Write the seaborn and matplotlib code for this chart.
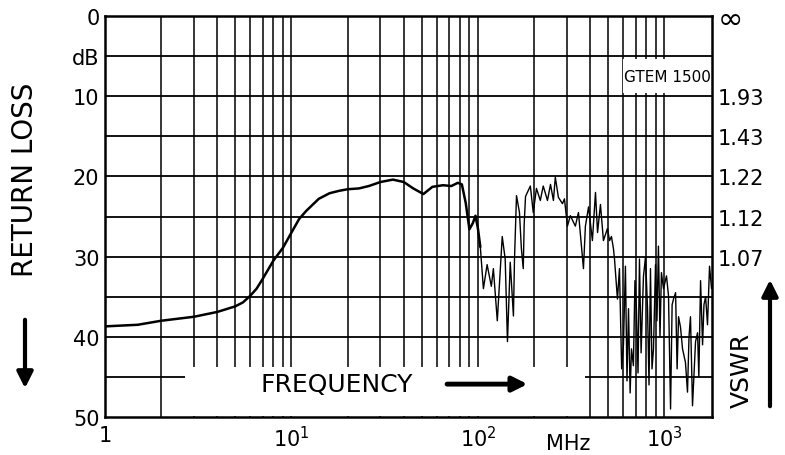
"""
Return loss / VSWR of the GTEM 1500 cell versus frequency.
"""

import matplotlib.pyplot as plt
import matplotlib.patches as mpatches
import pandas as pd
import seaborn as sns

# Smooth low-frequency part of the trace (MHz, dB)
smooth_freq = [1, 1.5, 2, 3, 4, 5, 5.5, 6, 6.5, 7, 8, 9, 10, 11, 12, 14, 16, 18, 20,
               23, 26, 30, 35, 40, 45, 51, 57, 65, 72, 78, 82, 86, 90, 94, 97, 100, 103]
smooth_db = [38.7, 38.5, 38.0, 37.5, 36.9, 36.2, 35.7, 34.9, 34.0, 32.8, 30.5, 28.9,
             27.0, 25.3, 24.3, 22.8, 22.1, 21.8, 21.6, 21.5, 21.2, 20.7, 20.4, 20.7,
             21.5, 22.2, 21.3, 21.1, 21.2, 20.8, 21.0, 23.3, 26.6, 25.8, 24.9, 26.5, 28.8]

# Noisy high-frequency part of the trace (MHz, dB)
noisy_freq = [103, 107, 112, 118, 121, 127, 135, 140, 144, 149, 155, 157, 161, 167, 171,
              175, 177, 180, 191, 198, 206, 216, 224, 236, 245, 254, 260, 270, 284, 291,
              302, 313, 333, 346, 368, 377, 392, 411, 427, 438, 454, 471, 495, 508, 520,
              533, 540, 560, 574, 590, 603, 618, 630, 642, 655, 666, 682, 695, 708, 722,
              735, 750, 772, 792, 812, 827, 842, 858, 874, 896, 912, 929, 947, 964, 989,
              1026, 1052, 1079, 1100, 1119, 1148, 1170, 1191, 1220, 1251, 1297, 1330,
              1355, 1380, 1415, 1469, 1506, 1530, 1563, 1602, 1630, 1663, 1703, 1746, 1790]
noisy_db = [28.8, 34.0, 31.0, 33.7, 31.5, 38.0, 27.5, 30.3, 40.6, 30.7, 37.4, 30.5, 22.4,
            24.5, 29.0, 31.5, 26.0, 22.5, 21.2, 24.5, 21.5, 23.0, 21.2, 23.0, 21.0, 23.0,
            20.1, 22.6, 23.4, 22.8, 26.2, 24.9, 26.2, 24.5, 31.5, 26.2, 23.8, 28.0, 22.0,
            27.0, 23.5, 28.0, 26.5, 28.0, 27.5, 29.0, 30.3, 35.3, 31.5, 44.0, 41.0, 31.2,
            45.5, 36.5, 47.0, 41.5, 43.6, 33.0, 36.5, 44.5, 30.3, 42.0, 32.5, 30.0, 36.5,
            46.0, 31.5, 44.0, 41.5, 31.0, 38.0, 28.7, 40.0, 32.0, 34.0, 32.4, 34.9, 49.0,
            36.0, 35.3, 34.5, 44.0, 37.5, 38.8, 41.5, 43.2, 46.9, 40.0, 37.5, 48.6, 40.6,
            39.5, 45.0, 33.0, 41.0, 36.0, 35.0, 38.5, 31.2, 34.0]

# Axis ticks and labels
left_ticks = [0, 5, 10, 20, 30, 40, 50]
left_labels = ['0', 'dB', '10', '20', '30', '40', '50']
right_ticks = [0, 10, 15, 20, 25, 30]
right_labels = ['\u221e', '1.93', '1.43', '1.22', '1.12', '1.07']
x_ticks = [1, 10, 100, 1000]
x_labels = ['1', '$10^1$', '$10^2$', '$10^3$']

# Grid lines
h_grid = [5, 10, 15, 20, 25, 30, 35, 40, 45]
v_grid = [m * d for d in (1, 10, 100) for m in range(2, 11)]

W, H = 785, 456


def fx(px):
    return px / W


def fy(py):
    return 1 - py / H


def main():
    sns.set_theme(style='white')
    plt.rcParams['font.family'] = ['DejaVu Sans']
    plt.rcParams['text.color'] = 'black'

    fig = plt.figure(figsize=(7.85, 4.56), dpi=100)
    ax = fig.add_axes([fx(105), fy(418), fx(712) - fx(105), fy(17) - fy(418)])

    # Grid
    for y in h_grid:
        ax.axhline(y, color='black', lw=1.3, zorder=1)
    for x in v_grid:
        ax.axvline(x, color='black', lw=1.1, zorder=1)

    # Blank areas behind the in-plot labels
    ax.add_patch(mpatches.Rectangle((2.69, 43.8), 377 - 2.69, 49.9 - 43.8,
                                    facecolor='white', edgecolor='none', zorder=2))
    ax.add_patch(mpatches.Rectangle((600, 5.4), 1800 - 600, 9.6 - 5.4,
                                    facecolor='white', edgecolor='none', zorder=2))

    # Trace
    smooth = pd.DataFrame({'freq': smooth_freq, 'db': smooth_db})
    noisy = pd.DataFrame({'freq': noisy_freq, 'db': noisy_db})
    sns.lineplot(data=smooth, x='freq', y='db', color='black', lw=1.8,
                 estimator=None, ax=ax, zorder=3)
    sns.lineplot(data=noisy, x='freq', y='db', color='black', lw=1.0,
                 estimator=None, ax=ax, zorder=3)

    ax.set_xscale('log')
    ax.set_xlim(1, 1800)
    ax.set_ylim(50, 0)
    ax.set_xlabel('')
    ax.set_ylabel('')
    ax.set_xticks(x_ticks)
    ax.set_xticklabels(x_labels)
    ax.set_xticks([], minor=True)
    ax.set_yticks(left_ticks)
    ax.set_yticklabels(left_labels)
    ax.tick_params(axis='both', length=0, labelsize=15, colors='black')
    ax.tick_params(axis='y', pad=4)
    ax.tick_params(axis='x', pad=6)
    for side in ax.spines:
        ax.spines[side].set_color('black')
        ax.spines[side].set_linewidth(1.8)

    # Right VSWR axis
    ax2 = ax.twinx()
    ax2.set_ylim(50, 0)
    ax2.set_yticks(right_ticks)
    ax2.set_yticklabels(right_labels)
    ax2.tick_params(axis='y', length=0, labelsize=15, colors='black', pad=4)
    ax2.get_yticklabels()[0].set_fontsize(22)
    for side in ax2.spines:
        ax2.spines[side].set_visible(False)

    # In-plot text
    ax.text(1040, 7.6, 'GTEM 1500', fontsize=11, ha='center', va='center',
            color='black', zorder=4)
    ax.text(17.5, 45.9, 'FREQUENCY', fontsize=18, ha='center', va='center',
            color='black', zorder=4)
    ax.annotate('', xy=(191, 45.9), xytext=(66, 45.9), zorder=4,
                arrowprops=dict(arrowstyle='-|>', lw=3.5, mutation_scale=22, color='black'))
    ax.text(305, 53.2, 'MHz', fontsize=15, ha='center', va='center', color='black',
            clip_on=False)

    # Outer axis titles with arrows
    fig.text(fx(25), fy(180), 'RETURN LOSS', rotation=90, fontsize=20,
             ha='center', va='center', color='black')
    fig.add_artist(mpatches.FancyArrowPatch((fx(25), fy(318)), (fx(25), fy(392)),
                                            transform=fig.transFigure, arrowstyle='-|>',
                                            lw=3, mutation_scale=24, color='black'))
    fig.text(fx(742), fy(370), 'VSWR', rotation=90, fontsize=18,
             ha='center', va='center', color='black')
    fig.add_artist(mpatches.FancyArrowPatch((fx(770), fy(410)), (fx(770), fy(278)),
                                            transform=fig.transFigure, arrowstyle='-|>',
                                            lw=3, mutation_scale=24, color='black'))

    fig.savefig('out.png', dpi=100)


if __name__ == "__main__":
    main()
